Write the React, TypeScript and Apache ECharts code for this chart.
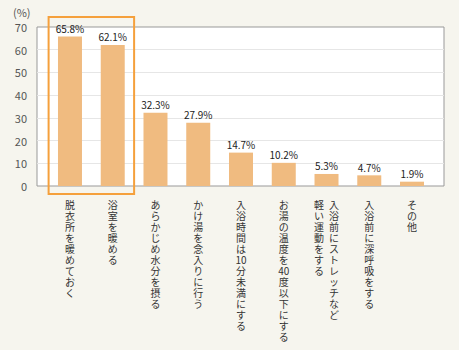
import React, { useEffect, useRef } from "react";
import * as echarts from "echarts";

// Survey answers, in vertical Japanese; a second entry holds a label's left column
const categories = [
  "脱衣所を暖めておく",
  "浴室を暖める",
  "あらかじめ水分を摂る",
  "かけ湯を念入りに行う",
  "入浴時間は10分未満にする",
  "お湯の温度を40度以下にする",
  "入浴前にストレッチなど",
  "入浴前に深呼吸をする",
  "その他",
];
const secondColumns = ["", "", "", "", "", "", "軽い運動をする", "", ""];
const percentages = [65.8, 62.1, 32.3, 27.9, 14.7, 10.2, 5.3, 4.7, 1.9];
const yTicks = { min: 0, max: 70, interval: 10 };
const highlighted = [0, 1];

const FONT = '"Noto Sans CJK JP", "Noto Sans", sans-serif';

// Split a label into vertical cells; digit runs stay together upright
function cells(s: string): string[] {
  return s.match(/[0-9]+|./g) || [];
}

function verticalLabel(value: string, idx: number): string {
  const right = cells(value);
  const left = cells(secondColumns[idx] || "");
  if (left.length === 0) return right.join("\n");
  const n = Math.max(right.length, left.length);
  const lines: string[] = [];
  for (let i = 0; i < n; i++) {
    const l = left[i] || " ";
    const r = right[i] || " ";
    lines.push(`{l|${l}}{r|${r}}`);
  }
  return lines.join("\n");
}

const labelText = { fontSize: 10, lineHeight: 11, color: "#333333", fontFamily: FONT };

export default function App() {
  const ref = useRef<HTMLDivElement>(null);

  useEffect(() => {
    if (!ref.current) return;
    const chart = echarts.init(ref.current, null, { renderer: "svg" });
    const unitLabel = {
      type: "text",
      left: 13,
      top: 6,
      style: { text: "(%)", fontSize: 11, fill: "#555555", fontFamily: FONT },
    };
    chart.setOption({
      animation: false,
      backgroundColor: "#f6f5ee",
      textStyle: { fontFamily: FONT },
      grid: [
        {
          left: 37,
          right: 15,
          top: 27,
          bottom: 164,
          show: true,
          backgroundColor: "#ffffff",
          borderColor: "#999999",
          borderWidth: 1,
        },
        { left: 48.6, right: 25.6, top: 27, bottom: 164 },
      ],
      xAxis: [
        { gridIndex: 0, type: "value", show: false },
        {
          gridIndex: 1,
          type: "category",
          data: categories,
          axisLine: { show: false },
          axisTick: { show: false },
          axisLabel: {
            interval: 0,
            margin: 13,
            ...labelText,
            formatter: (v: string, i: number) => verticalLabel(v, i),
            rich: {
              l: { width: 15, align: "center", ...labelText },
              r: { width: 15, align: "center", ...labelText },
            },
          },
        },
      ],
      yAxis: [
        {
          gridIndex: 0,
          type: "value",
          ...yTicks,
          axisLine: { show: false },
          axisTick: { show: false },
          axisLabel: { color: "#555555", fontSize: 11, margin: 10, fontFamily: FONT },
          splitLine: {
            show: true,
            showMinLine: false,
            showMaxLine: false,
            lineStyle: { color: "#e6e6e6", width: 1 },
          },
        },
        { gridIndex: 1, type: "value", ...yTicks, show: false },
      ],
      series: [
        {
          type: "bar",
          xAxisIndex: 1,
          yAxisIndex: 1,
          data: percentages,
          barWidth: 24,
          itemStyle: { color: "#f0bb80" },
          label: {
            show: true,
            position: "top",
            distance: 3,
            fontSize: 10,
            color: "#222222",
            fontFamily: FONT,
            formatter: (p: any) => `${p.value}%`,
          },
        },
      ],
      graphic: [unitLabel],
    });

    // Frame around the highlighted answers, placed from the axis scale
    const c0 = chart.convertToPixel({ xAxisIndex: 1 }, categories[highlighted[0]]) as number;
    const c1 = chart.convertToPixel({ xAxisIndex: 1 }, categories[highlighted[1]]) as number;
    const band = c1 - c0;
    const yTop = chart.convertToPixel({ yAxisIndex: 1 }, yTicks.max) as number;
    const yBottom = chart.convertToPixel({ yAxisIndex: 1 }, yTicks.min) as number;
    const x0 = c0 - band / 2;
    const x1 = c0 + (highlighted[1] - highlighted[0]) * band + band / 2;
    chart.setOption({
      graphic: [
        unitLabel,
        {
          type: "rect",
          z: 10,
          shape: { x: x0, y: yTop - 10, width: x1 - x0, height: yBottom - yTop + 18 },
          style: { fill: "none", stroke: "#f5a03c", lineWidth: 2 },
        },
      ],
    });

    return () => chart.dispose();
  }, []);

  return (
    <div
      ref={ref}
      style={{ position: "fixed", left: 0, top: 0, width: 459, height: 350 }}
    />
  );
}
